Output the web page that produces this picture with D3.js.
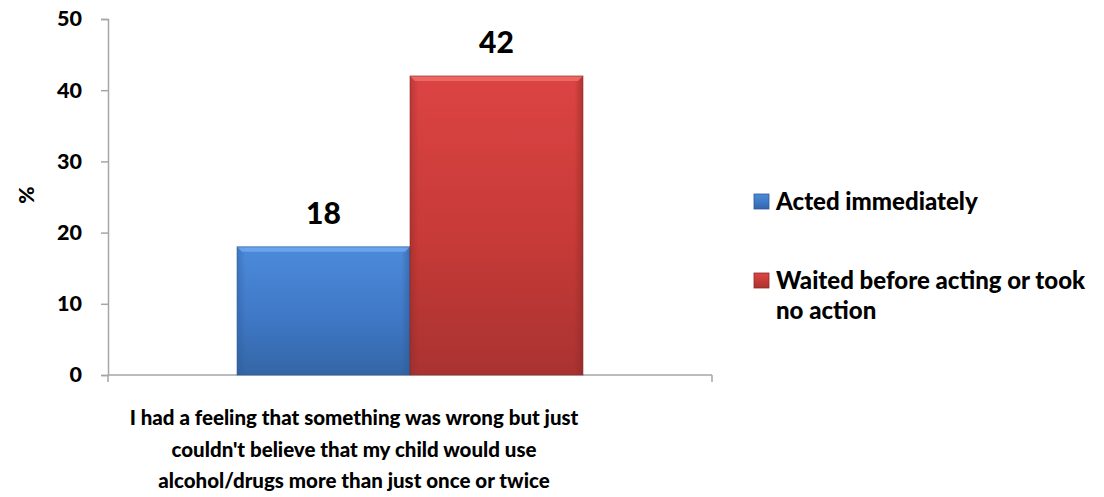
<!DOCTYPE html>
<html>
<head>
<meta charset="utf-8">
<script src="https://cdn.jsdelivr.net/npm/d3@7"></script>
<style>
  html, body { margin: 0; padding: 0; background: #fff; }
  svg text { font-family: Lato, "Open Sans", sans-serif; font-weight: 900; fill: #000; }
</style>
</head>
<body>
<svg id="chart" width="1104" height="497"></svg>
<script>
// Data
const categories = ["I had a feeling that something was wrong but just couldn't believe that my child would use alcohol/drugs more than just once or twice"];
const categoryLines = ["I had a feeling that something was wrong but just", "couldn't believe that my child would use", "alcohol/drugs more than just once or twice"];
const seriesNames = ["Acted immediately", "Waited before acting or took no action"];
const actedImmediately = [18];
const waitedOrNoAction = [42];
const yTicks = [0, 10, 20, 30, 40, 50];

const svg = d3.select("#chart");
const plotLeft = 108, plotRight = 712, plotTop = 19, plotBottom = 375;

const y = d3.scaleLinear().domain([0, 50]).range([plotBottom, plotTop]);
const x0 = d3.scaleBand().domain(categories).range([plotLeft, plotRight]).paddingInner(0).paddingOuter(0.373);
const x1 = d3.scaleBand().domain(seriesNames).range([0, x0.bandwidth()]).padding(0);

// Gradients
const defs = svg.append("defs");
const palettes = [
  { id: "gBlue", top: "#4c8bda", mid: "#3f78c6", bot: "#3466a6", edge: "#2d5894", hi: "#6ea8ee" },
  { id: "gRed", top: "#dc4443", mid: "#c63a37", bot: "#a93331", edge: "#8a2826", hi: "#ec6e6a" }
];
palettes.forEach(p => {
  const g = defs.append("linearGradient").attr("id", p.id).attr("x1", 0).attr("y1", 0).attr("x2", 0).attr("y2", 1);
  g.append("stop").attr("offset", "0%").attr("stop-color", p.top);
  g.append("stop").attr("offset", "55%").attr("stop-color", p.mid);
  g.append("stop").attr("offset", "100%").attr("stop-color", p.bot);
  const h = defs.append("linearGradient").attr("id", p.id + "H").attr("x1", 0).attr("y1", 0).attr("x2", 1).attr("y2", 0);
  h.append("stop").attr("offset", "0%").attr("stop-color", p.edge).attr("stop-opacity", 0.4);
  h.append("stop").attr("offset", "5%").attr("stop-color", p.edge).attr("stop-opacity", 0);
  h.append("stop").attr("offset", "95%").attr("stop-color", p.edge).attr("stop-opacity", 0);
  h.append("stop").attr("offset", "100%").attr("stop-color", p.edge).attr("stop-opacity", 0.55);
});

// Y axis
const yAxis = d3.axisLeft(y).tickValues(yTicks).tickSize(7).tickPadding(19);
const gy = svg.append("g").attr("transform", `translate(${plotLeft},0)`).call(yAxis);
gy.select(".domain").attr("stroke", "#a6a6a6").attr("stroke-width", 1.5);
gy.selectAll(".tick line").attr("stroke", "#a6a6a6").attr("stroke-width", 1.5);
gy.selectAll(".tick text").style("font-size", "21.5px").style("font-family", "Lato, sans-serif").style("font-weight", "900").attr("fill", "#000");

// X axis line with end ticks
const xAxisG = svg.append("g");
xAxisG.append("line").attr("x1", plotLeft).attr("x2", plotRight).attr("y1", plotBottom).attr("y2", plotBottom)
  .attr("stroke", "#a6a6a6").attr("stroke-width", 1.5);
[plotLeft, plotRight].forEach(px => {
  xAxisG.append("line").attr("x1", px).attr("x2", px).attr("y1", plotBottom).attr("y2", plotBottom + 7)
    .attr("stroke", "#a6a6a6").attr("stroke-width", 1.5);
});

// Bars
const seriesValues = [actedImmediately, waitedOrNoAction];
categories.forEach((cat, ci) => {
  seriesNames.forEach((s, si) => {
    const v = seriesValues[si][ci];
    const p = palettes[si];
    const bx = x0(cat) + x1(s), bw = x1.bandwidth();
    const by = y(v), bh = y(0) - y(v);
    const g = svg.append("g");
    g.append("rect").attr("x", bx).attr("y", by).attr("width", bw).attr("height", bh).attr("fill", `url(#${p.id})`);
    g.append("rect").attr("x", bx).attr("y", by).attr("width", bw).attr("height", bh).attr("fill", `url(#${p.id}H)`);
    // top bevel
    g.append("polygon")
      .attr("points", `${bx},${by} ${bx + bw},${by} ${bx + bw - 5},${by + 5} ${bx + 5},${by + 5}`)
      .attr("fill", p.hi).attr("opacity", 0.85);
    g.append("rect").attr("x", bx).attr("y", by).attr("width", bw).attr("height", bh)
      .attr("fill", "none").attr("stroke", p.edge).attr("stroke-width", 1).attr("opacity", 0.6);
    // value label
    svg.append("text").attr("x", bx + bw / 2).attr("y", by - 23).attr("text-anchor", "middle")
      .style("font-size", "30px").text(v);
  });
});

// Category label (wrapped text block sits left of the band centre)
const catX = x0(categories[0]) + x0.bandwidth() / 2 - 56;
const catText = svg.append("text").attr("text-anchor", "middle").style("font-size", "20.5px");
categoryLines.forEach((line, i) => {
  catText.append("tspan").attr("x", catX).attr("y", 425 + i * 31.5).text(line);
});

// Y axis title
svg.append("text").attr("transform", "translate(34,195) rotate(-90)").attr("text-anchor", "middle")
  .style("font-size", "21px").text("%");

// Legend
const legendItems = [
  { lines: ["Acted immediately"], y: 210 },
  { lines: ["Waited before acting or took", "no action"], y: 289 }
];
legendItems.forEach((item, i) => {
  const p = palettes[i];
  svg.append("rect").attr("x", 754).attr("y", item.y - 16).attr("width", 15).attr("height", 15)
    .attr("fill", `url(#${p.id})`).attr("stroke", p.edge).attr("stroke-width", 0.8);
  const t = svg.append("text").style("font-size", "24px");
  item.lines.forEach((l, j) => {
    t.append("tspan").attr("x", 776).attr("y", item.y + j * 30).text(l);
  });
});
</script>
</body>
</html>
